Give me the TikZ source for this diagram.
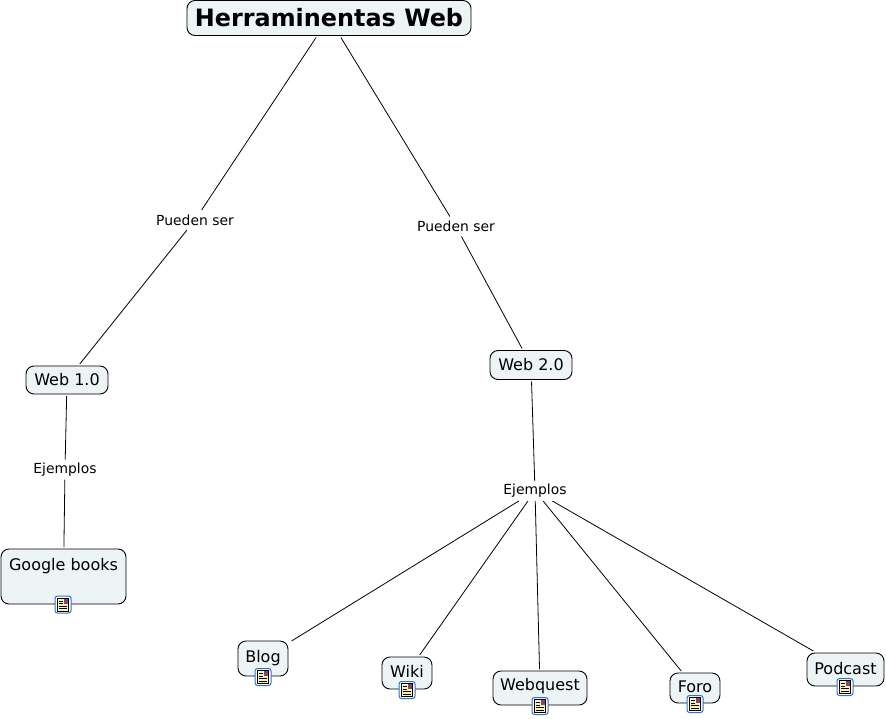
\documentclass[tikz,border=0pt]{standalone}
\usepackage{fontspec}
\setmainfont{DejaVu Sans}
\definecolor{boxfill}{HTML}{EDF4F6}
\definecolor{icoblue}{HTML}{2F72C4}
\definecolor{icopage}{HTML}{FBF3B5}
\tikzset{
  concept/.style={draw=black,line width=0.9pt,fill=boxfill,rounded corners=8pt,inner sep=0pt,outer sep=2pt,text=black,font=\fontsize{16}{18}\selectfont},
  title/.style={concept,font=\fontsize{23.9}{28}\selectfont\bfseries},
  link/.style={fill=white,inner sep=0pt,outer sep=1pt,font=\fontsize{13.9}{16}\selectfont,minimum height=18pt},
  conn/.style={draw=black,line width=0.8pt},
  pics/docicon/.style={code={
    \draw[icoblue,fill=white,line width=1pt,rounded corners=2.5pt] (-8,-8.5) rectangle (8,8.5);
    \draw[black,fill=icopage,line width=0.6pt] (-5.5,-6.5) rectangle (5.5,6.5);
    \fill[icoblue!60!red] (0.5,-6) rectangle (5,-1);
    \foreach \yy in {-3.6,-0.8,1.6,4}{\draw[black,line width=0.6pt] (-4,\yy) -- (\ifdim\yy pt<-0.5pt -0.5\else 4\fi,\yy);}
  }}
}
\begin{document}
\begin{tikzpicture}[x=1pt,y=-1pt]
\useasboundingbox[fill=white] (0,0) rectangle (886,718);
\node[title,minimum width=284pt,minimum height=35pt] (top) at (329,18) {Herraminentas Web};
\node[link,minimum width=80pt] (pl) at (195,220) {Pueden ser};
\node[link,minimum width=80pt] (pr) at (456,226.5) {Pueden ser};
\node[concept,minimum width=82pt,minimum height=28pt] (w1) at (67,380) {Web 1.0};
\node[concept,minimum width=82pt,minimum height=29pt] (w2) at (531,365) {Web 2.0};
\node[link,minimum width=66pt] (el) at (65,469.5) {Ejemplos};
\node[link,minimum width=66pt] (er) at (535,491) {Ejemplos};
\node[concept,minimum width=125pt,minimum height=55pt] (gb) at (63.5,576.5) {\raisebox{24pt}{Google books}};
\node[concept,minimum width=50pt,minimum height=35pt,outer sep=3.5pt] (blog) at (263,658.5) {\raisebox{4.5pt}{Blog}};
\node[concept,minimum width=50pt,minimum height=32pt] (wiki) at (407,673) {\raisebox{3pt}{Wiki}};
\node[concept,minimum width=94pt,minimum height=34pt] (webq) at (540,688) {\raisebox{6.5pt}{Webquest}};
\node[concept,minimum width=50pt,minimum height=30pt] (foro) at (695,688) {\raisebox{3pt}{Foro}};
\node[concept,minimum width=77pt,minimum height=33pt] (pod) at (845.5,669.5) {\raisebox{2.5pt}{Podcast}};
\draw[conn] (top) -- (pl);
\draw[conn] (top) -- (pr);
\draw[conn] (pl) -- (w1);
\draw[conn] (pr) -- (w2);
\draw[conn] (w1) -- (el);
\draw[conn] (el) -- (gb);
\draw[conn] (w2) -- (er);
\draw[conn] (er) -- (blog);
\draw[conn] (er) -- (wiki);
\draw[conn] (er) -- (webq);
\draw[conn] (er) -- (foro);
\draw[conn] (er) -- (pod);
\pic at (63,604.5) {docicon};
\pic at (263,677) {docicon};
\pic at (407,690) {docicon};
\pic at (540,706) {docicon};
\pic at (695,704) {docicon};
\pic at (845,687) {docicon};
\end{tikzpicture}
\end{document}
